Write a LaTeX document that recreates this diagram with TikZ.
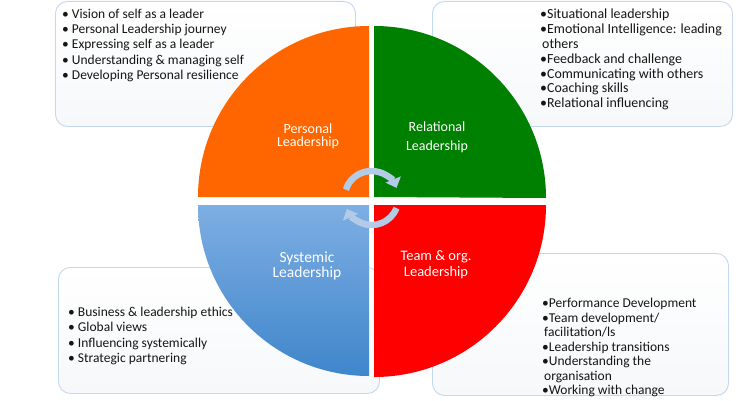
\documentclass[tikz,border=0pt]{standalone}
\usepackage{fontspec}
\setmainfont{Carlito}
\usetikzlibrary{arrows.meta}
\definecolor{qorange}{HTML}{FF6600}
\definecolor{qgreen}{HTML}{008000}
\definecolor{qred}{HTML}{FF0000}
\definecolor{qbluetop}{HTML}{7EAEE3}
\definecolor{qbluebot}{HTML}{3F86CB}
\definecolor{boxline}{HTML}{C2D8EE}
\definecolor{boxbot}{HTML}{F6F8FA}
\definecolor{arrowblue}{HTML}{B3CBE7}
\definecolor{txt}{HTML}{151515}
\begin{document}
\begin{tikzpicture}[x=1pt,y=1pt,
  infobox/.style={draw=boxline, line width=0.9pt, rounded corners=12pt, top color=white, bottom color=boxbot, anchor=north west, inner sep=0pt},
  listtext/.style={anchor=north west, inner sep=0pt, align=left, text=txt},
  quadlabel/.style={text=white, align=center, inner sep=0pt},
  cyc/.style={line width=6.5pt, draw=arrowblue, -{Triangle[width=16pt,length=9pt]}}
]
\useasboundingbox (0,0) rectangle (744,400);

% background boxes
\node[infobox, minimum width=300pt, minimum height=125pt] (b1) at (55,399) {};
\node[infobox, minimum width=300pt, minimum height=125pt] (b2) at (432,399) {};
\node[infobox, minimum width=321pt, minimum height=126pt] (b3) at (58,133) {};
\node[infobox, minimum width=296pt, minimum height=142pt] (b4) at (432,147) {};

% quadrants
\fill[qorange] (369,203) -- ++(-171,0) arc[start angle=180, end angle=90, radius=171] -- cycle;
\fill[qgreen] (374,203) -- ++(0,171) arc[start angle=90, end angle=0, radius=172] -- cycle;
\shade[top color=qbluetop, bottom color=qbluebot] (369,195) -- ++(-171,0) arc[start angle=180, end angle=270, radius=171] -- cycle;
\fill[qred] (374,195) -- ++(172,0) arc[start angle=0, end angle=-90, radius=172] -- cycle;

% cycle arrows
\coordinate (cc) at (371.5,202);
\draw[cyc] (cc) ++(162:27) arc[start angle=162, end angle=22, radius=27];
\draw[cyc] (cc) ++(-22:27) arc[start angle=-22, end angle=-156, radius=27];

% quadrant labels
\node[quadlabel, font=\fontsize{14}{13}\selectfont] (qp) at (308,264) {Personal\\Leadership};
\node[quadlabel, font=\fontsize{14}{19}\selectfont] (qr) at (437,263) {Relational\\Leadership};
\node[quadlabel, font=\fontsize{15.5}{15}\selectfont] (qs) at (307,134) {Systemic\\Leadership};
\node[quadlabel, font=\fontsize{14.5}{16}\selectfont] (qt) at (436,135) {Team \& org.\\Leadership};

% lists
\node[listtext, font=\fontsize{13.5}{15.2}\selectfont] (t1) at (62,391) {%
• Vision of self as a leader\\
• Personal Leadership journey\\
• Expressing self as a leader\\
• Understanding \& managing self\\
• Developing Personal resilience};

\node[listtext, font=\fontsize{13.9}{14.8}\selectfont] (t2) at (540,391) {%
•Situational leadership\\
•Emotional Intelligence: leading\\
\hspace{2pt}others\\
•Feedback and challenge\\
•Communicating with others\\
•Coaching skills\\
•Relational influencing};

\node[listtext, font=\fontsize{13.5}{15.3}\selectfont] (t3) at (68,93) {%
• Business \& leadership ethics\\
• Global views\\
• Influencing systemically\\
• Strategic partnering};

\node[listtext, font=\fontsize{13.5}{14.5}\selectfont] (t4) at (542,102) {%
•Performance Development\\
•Team development/\\
\hspace{2pt}facilitation/ls\\
•Leadership transitions\\
•Understanding the\\
\hspace{2pt}organisation\\
•Working with change};
\end{tikzpicture}
\end{document}
